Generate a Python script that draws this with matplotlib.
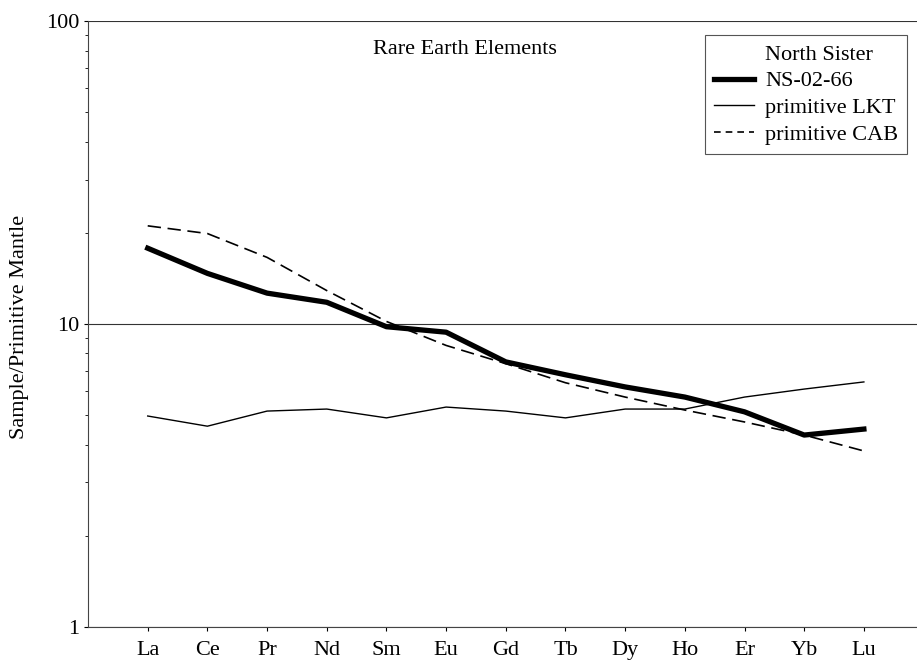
import matplotlib
matplotlib.use("Agg")
import matplotlib.pyplot as plt
from matplotlib.lines import Line2D
from matplotlib.ticker import LogLocator, FixedLocator, NullFormatter

elements = ["La", "Ce", "Pr", "Nd", "Sm", "Eu", "Gd", "Tb", "Dy", "Ho", "Er", "Yb", "Lu"]
ns_02_66 = [17.8, 14.7, 12.65, 11.8, 9.8, 9.4, 7.5, 6.8, 6.2, 5.74, 5.13, 4.3, 4.5]
prim_lkt = [4.97, 4.6, 5.16, 5.24, 4.9, 5.32, 5.16, 4.9, 5.24, 5.24, 5.74, 6.1, 6.44]
prim_cab = [21.1, 19.9, 16.6, 12.9, 10.2, 8.5, 7.4, 6.4, 5.74, 5.2, 4.75, 4.3, 3.81]
yticks = [1, 10, 100]
ytick_labels = ["1", "10", "100"]

plt.rcParams['font.family'] = ['Liberation Serif', 'DejaVu Serif']
fig = plt.figure(figsize=(9.17, 6.62), dpi=100)
ax = fig.add_axes([0.096, 0.053, 0.904, 0.915])

x = list(range(len(elements)))
ax.plot(x, ns_02_66, color="black", lw=3.8, solid_joinstyle="round", zorder=4)
ax.plot(x, prim_lkt, color="black", lw=1.0, zorder=3)
ax.plot(x, prim_cab, color="black", lw=1.2, dashes=(8, 4), zorder=3)

ax.set_yscale("log")
ax.set_ylim(1, 100)
ax.set_xlim(-1, 12.89)
ax.yaxis.set_major_locator(FixedLocator(yticks))
ax.set_yticklabels(ytick_labels, fontsize=16)
ax.yaxis.set_minor_locator(LogLocator(base=10, subs=range(2, 10)))
ax.yaxis.set_minor_formatter(NullFormatter())
ax.set_xticks(x)
ax.set_xticklabels(elements, fontsize=16)
ax.tick_params(axis="x", direction="out", length=3, width=0.8, pad=7)
ax.tick_params(axis="y", which="major", direction="out", length=3, width=0.8, pad=3)
ax.tick_params(axis="y", which="minor", direction="out", length=2, width=0.6)
for s in ["top", "right"]:
    ax.spines[s].set_visible(False)
ax.spines["left"].set_color("#444444")
ax.spines["bottom"].set_color("#444444")
ax.grid(axis="y", which="major", color="#333333", lw=0.8)

fig.text(20 / 917, 0.506, "Sample/Primitive Mantle", rotation=90,
         ha="center", va="center", fontsize=16)

ax.text(0.455, 0.953, "Rare Earth Elements", transform=ax.transAxes,
        ha="center", va="center", fontsize=16)

handles = [
    Line2D([], [], color="none"),
    Line2D([], [], color="black", lw=3.8),
    Line2D([], [], color="black", lw=1.0),
    Line2D([], [], color="black", lw=1.2, dashes=(4, 3)),
]
labels = ["North Sister", "NS-02-66", "primitive LKT", "primitive CAB"]
leg = ax.legend(handles, labels, loc="upper right", bbox_to_anchor=(0.988, 0.977),
                borderaxespad=0, fontsize=16, frameon=True, fancybox=False,
                framealpha=1, edgecolor="#555555", handlelength=1.8,
                handletextpad=0.5, labelspacing=0.28, borderpad=0.4)
leg.get_frame().set_linewidth(0.8)

fig.savefig("out.png", dpi=100)
